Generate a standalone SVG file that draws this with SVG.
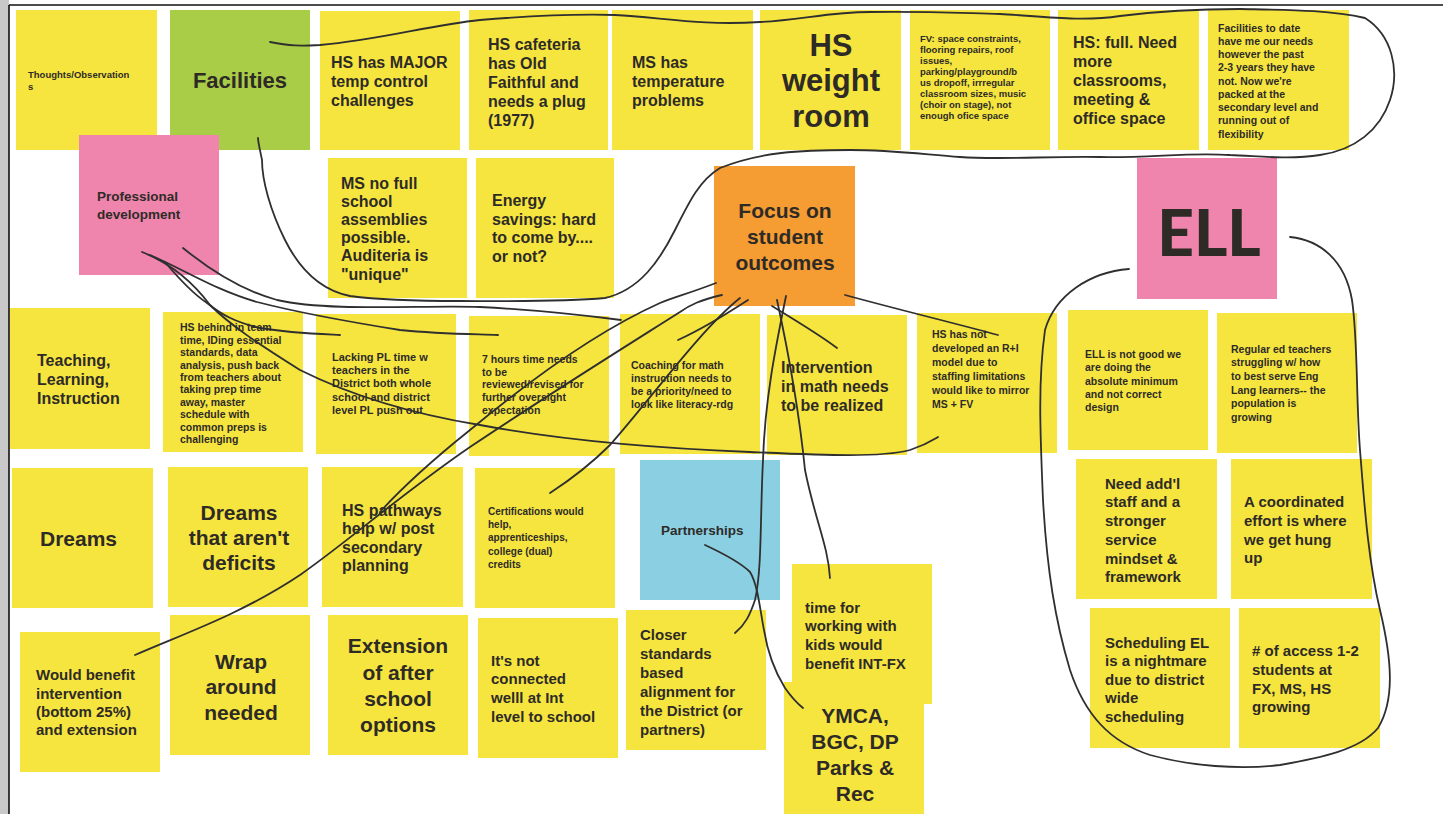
<svg xmlns="http://www.w3.org/2000/svg" width="1443" height="814" viewBox="0 0 1443 814">
<style>
.y{fill:#f6e53f}
.g{fill:#a9cd46}
.p{fill:#ef84ad}
.o{fill:#f59c33}
.b{fill:#8bd0e2}
text{font-family:"Liberation Sans",Arial,sans-serif;font-weight:700;fill:#2e2b27;dominant-baseline:central}
.s9{font-size:9.5px}
.s10{font-size:10.5px}
.s13{font-size:13.5px}
.s15{font-size:15px}
.s16{font-size:16px}
.s21{font-size:21px}
.c{text-anchor:middle}
.ln{fill:none;stroke:#2f2f2f;stroke-width:1.8;stroke-linecap:round;stroke-linejoin:round}
</style>
<rect x="0" y="0" width="1443" height="814" fill="#ffffff"/>
<rect x="0" y="0" width="9" height="814" fill="#c9c9c9"/>
<line x1="9" y1="5" x2="9" y2="814" stroke="#111" stroke-width="1.6"/>
<line x1="9" y1="5" x2="1443" y2="5" stroke="#111" stroke-width="1.6"/>

<g id="n-thoughts"><rect class="y" x="16" y="10" width="141" height="140"/>
<text class="s9"><tspan x="28" y="74">Thoughts/Observation</tspan><tspan x="28" y="86">s</tspan></text></g>
<g id="n-facilities"><rect class="g" x="170" y="10" width="140" height="140"/>
<text class="c" x="240" y="80" style="font-size:22px">Facilities</text></g>
<g id="n-hsmajor"><rect class="y" x="320" y="11" width="140" height="139"/>
<text class="s16"><tspan x="331" y="62">HS has MAJOR</tspan><tspan x="331" y="81">temp control</tspan><tspan x="331" y="100">challenges</tspan></text></g>
<g id="n-caf"><rect class="y" x="469" y="10" width="139" height="140"/>
<text class="s16"><tspan x="488" y="44">HS cafeteria</tspan><tspan x="488" y="63">has Old</tspan><tspan x="488" y="82">Faithful and</tspan><tspan x="488" y="101">needs a plug</tspan><tspan x="488" y="120">(1977)</tspan></text></g>
<g id="n-mstemp"><rect class="y" x="612" y="10" width="141" height="140"/>
<text class="s16"><tspan x="632" y="62">MS has</tspan><tspan x="632" y="81">temperature</tspan><tspan x="632" y="100">problems</tspan></text></g>
<g id="n-weight"><rect class="y" x="760" y="10" width="141" height="140"/>
<text class="c" style="font-size:31px"><tspan x="831" y="45">HS</tspan><tspan x="831" y="80">weight</tspan><tspan x="831" y="116">room</tspan></text></g>
<g id="n-fv"><rect class="y" x="910" y="10" width="140" height="140"/>
<text class="s9"><tspan x="920" y="38">FV: space constraints,</tspan><tspan x="920" y="49">flooring repairs, roof</tspan><tspan x="920" y="60">issues,</tspan><tspan x="920" y="71">parking/playground/b</tspan><tspan x="920" y="82">us dropoff, irrregular</tspan><tspan x="920" y="93">classroom sizes, music</tspan><tspan x="920" y="104">(choir on stage), not</tspan><tspan x="920" y="115">enough ofice space</tspan></text></g>
<g id="n-hsfull"><rect class="y" x="1058" y="10" width="141" height="140"/>
<text class="s16"><tspan x="1073" y="42">HS: full. Need</tspan><tspan x="1073" y="61">more</tspan><tspan x="1073" y="80">classrooms,</tspan><tspan x="1073" y="99">meeting &amp;</tspan><tspan x="1073" y="118">office space</tspan></text></g>
<g id="n-todate"><rect class="y" x="1208" y="10" width="141" height="140"/>
<text class="s10"><tspan x="1218" y="28">Facilities to date</tspan><tspan x="1218" y="41">have me our needs</tspan><tspan x="1218" y="54">however the past</tspan><tspan x="1218" y="67">2-3 years they have</tspan><tspan x="1218" y="81">not. Now we're</tspan><tspan x="1218" y="94">packed at the</tspan><tspan x="1218" y="107">secondary level and</tspan><tspan x="1218" y="120">running out of</tspan><tspan x="1218" y="134">flexibility</tspan></text></g>

<g id="n-profdev"><rect class="p" x="79" y="135" width="140" height="140"/>
<text class="s13"><tspan x="97" y="196">Professional</tspan><tspan x="97" y="214">development</tspan></text></g>
<g id="n-msassembly"><rect class="y" x="328" y="158" width="139" height="140"/>
<text class="s16"><tspan x="341" y="183">MS no full</tspan><tspan x="341" y="201">school</tspan><tspan x="341" y="219">assemblies</tspan><tspan x="341" y="237">possible.</tspan><tspan x="341" y="255">Auditeria is</tspan><tspan x="341" y="274">"unique"</tspan></text></g>
<g id="n-energy"><rect class="y" x="476" y="158" width="138" height="140"/>
<text class="s16"><tspan x="492" y="200">Energy</tspan><tspan x="492" y="219">savings: hard</tspan><tspan x="492" y="237">to come by....</tspan><tspan x="492" y="256">or not?</tspan></text></g>
<g id="n-focus"><rect class="o" x="714" y="166" width="141" height="140"/>
<text class="c" style="font-size:21px"><tspan x="785" y="210">Focus on</tspan><tspan x="785" y="236">student</tspan><tspan x="785" y="262">outcomes</tspan></text></g>
<g id="n-ell"><rect class="p" x="1137" y="158" width="140" height="141"/>
<text class="c" x="1209" y="231" style="font-family:Lato,'Liberation Sans',sans-serif;font-weight:900;font-size:64px">ELL</text></g>

<g id="n-tli"><rect class="y" x="10" y="308" width="140" height="141"/>
<text class="s16"><tspan x="37" y="360">Teaching,</tspan><tspan x="37" y="379">Learning,</tspan><tspan x="37" y="398">Instruction</tspan></text></g>
<g id="n-hsbehind"><rect class="y" x="163" y="312" width="140" height="140"/>
<text class="s10"><tspan x="180" y="327">HS behind in team</tspan><tspan x="180" y="340">time, IDing essential</tspan><tspan x="180" y="352">standards, data</tspan><tspan x="180" y="365">analysis, push back</tspan><tspan x="180" y="377">from teachers about</tspan><tspan x="180" y="389">taking prep time</tspan><tspan x="180" y="402">away, master</tspan><tspan x="180" y="414">schedule with</tspan><tspan x="180" y="427">common preps is</tspan><tspan x="180" y="439">challenging</tspan></text></g>
<g id="n-lackingpl"><rect class="y" x="316" y="314" width="140" height="140"/>
<text style="font-size:11px"><tspan x="332" y="357">Lacking PL time w</tspan><tspan x="332" y="370">teachers in the</tspan><tspan x="332" y="383">District both whole</tspan><tspan x="332" y="397">school and district</tspan><tspan x="332" y="410">level PL push out</tspan></text></g>
<g id="n-7hours"><rect class="y" x="469" y="316" width="140" height="140"/>
<text class="s10"><tspan x="482" y="359">7 hours time needs</tspan><tspan x="482" y="372">to be</tspan><tspan x="482" y="384">reviewed/revised for</tspan><tspan x="482" y="397">further oversight</tspan><tspan x="482" y="410">expectation</tspan></text></g>
<g id="n-coaching"><rect class="y" x="620" y="314" width="140" height="140"/>
<text class="s10"><tspan x="631" y="365">Coaching for math</tspan><tspan x="631" y="378">instruction needs to</tspan><tspan x="631" y="391">be a priority/need to</tspan><tspan x="631" y="404">look like literacy-rdg</tspan></text></g>
<g id="n-intervention"><rect class="y" x="767" y="315" width="140" height="140"/>
<text class="s16"><tspan x="781" y="367">Intervention</tspan><tspan x="781" y="386">in math needs</tspan><tspan x="781" y="405">to be realized</tspan></text></g>
<g id="n-hsnot"><rect class="y" x="917" y="313" width="140" height="140"/>
<text class="s10"><tspan x="932" y="334">HS has not</tspan><tspan x="932" y="348">developed an R+I</tspan><tspan x="932" y="362">model due to</tspan><tspan x="932" y="376">staffing limitations</tspan><tspan x="932" y="390">would like to mirror</tspan><tspan x="932" y="404">MS + FV</tspan></text></g>
<g id="n-ellnotgood"><rect class="y" x="1068" y="310" width="140" height="140"/>
<text class="s10"><tspan x="1085" y="354">ELL is not good we</tspan><tspan x="1085" y="367">are doing the</tspan><tspan x="1085" y="381">absolute minimum</tspan><tspan x="1085" y="394">and not correct</tspan><tspan x="1085" y="407">design</tspan></text></g>
<g id="n-reged"><rect class="y" x="1217" y="313" width="140" height="140"/>
<text class="s10"><tspan x="1231" y="349">Regular ed teachers</tspan><tspan x="1231" y="362">struggling w/ how</tspan><tspan x="1231" y="376">to best serve Eng</tspan><tspan x="1231" y="390">Lang learners-- the</tspan><tspan x="1231" y="403">population is</tspan><tspan x="1231" y="417">growing</tspan></text></g>

<g id="n-dreams"><rect class="y" x="12" y="468" width="141" height="140"/>
<text class="s21" x="40" y="538">Dreams</text></g>
<g id="n-dreams2"><rect class="y" x="168" y="467" width="140" height="140"/>
<text class="s21 c"><tspan x="239" y="512">Dreams</tspan><tspan x="239" y="537">that aren't</tspan><tspan x="239" y="562">deficits</tspan></text></g>
<g id="n-pathways"><rect class="y" x="322" y="467" width="141" height="140"/>
<text class="s16"><tspan x="342" y="510">HS pathways</tspan><tspan x="342" y="528">help w/ post</tspan><tspan x="342" y="547">secondary</tspan><tspan x="342" y="565">planning</tspan></text></g>
<g id="n-cert"><rect class="y" x="475" y="468" width="140" height="140"/>
<text style="font-size:10px"><tspan x="488" y="511">Certifications would</tspan><tspan x="488" y="524">help,</tspan><tspan x="488" y="537">apprenticeships,</tspan><tspan x="488" y="551">college (dual)</tspan><tspan x="488" y="564">credits</tspan></text></g>
<g id="n-partnerships"><rect class="b" x="640" y="460" width="140" height="140"/>
<text class="s13" x="661" y="530">Partnerships</text></g>
<g id="n-needstaff"><rect class="y" x="1076" y="459" width="141" height="140"/>
<text class="s15"><tspan x="1105" y="483">Need add'l</tspan><tspan x="1105" y="501">staff and a</tspan><tspan x="1105" y="520">stronger</tspan><tspan x="1105" y="539">service</tspan><tspan x="1105" y="558">mindset &amp;</tspan><tspan x="1105" y="576">framework</tspan></text></g>
<g id="n-coord"><rect class="y" x="1231" y="459" width="141" height="140"/>
<text class="s15"><tspan x="1244" y="501">A coordinated</tspan><tspan x="1244" y="520">effort is where</tspan><tspan x="1244" y="539">we get hung</tspan><tspan x="1244" y="557">up</tspan></text></g>

<g id="n-benefit"><rect class="y" x="20" y="632" width="140" height="140"/>
<text class="s15"><tspan x="36" y="674">Would benefit</tspan><tspan x="36" y="693">intervention</tspan><tspan x="36" y="711">(bottom 25%)</tspan><tspan x="36" y="729">and extension</tspan></text></g>
<g id="n-wrap"><rect class="y" x="170" y="615" width="140" height="140"/>
<text class="s21 c"><tspan x="241" y="661">Wrap</tspan><tspan x="241" y="686">around</tspan><tspan x="241" y="712">needed</tspan></text></g>
<g id="n-extension"><rect class="y" x="328" y="615" width="140" height="140"/>
<text class="s21 c"><tspan x="398" y="645">Extension</tspan><tspan x="398" y="672">of after</tspan><tspan x="398" y="698">school</tspan><tspan x="398" y="724">options</tspan></text></g>
<g id="n-notconnected"><rect class="y" x="478" y="618" width="140" height="140"/>
<text class="s15"><tspan x="491" y="660">It's not</tspan><tspan x="491" y="678">connected</tspan><tspan x="491" y="697">welll at Int</tspan><tspan x="491" y="716">level to school</tspan></text></g>
<g id="n-closer"><rect class="y" x="626" y="610" width="140" height="140"/>
<text class="s15"><tspan x="640" y="634">Closer</tspan><tspan x="640" y="653">standards</tspan><tspan x="640" y="672">based</tspan><tspan x="640" y="691">alignment for</tspan><tspan x="640" y="710">the District (or</tspan><tspan x="640" y="729">partners)</tspan></text></g>
<g id="n-timefor"><rect class="y" x="792" y="564" width="140" height="140"/>
<text class="s15"><tspan x="805" y="607">time for</tspan><tspan x="805" y="625">working with</tspan><tspan x="805" y="644">kids would</tspan><tspan x="805" y="663">benefit INT-FX</tspan></text></g>
<g id="n-ymca"><rect class="y" x="784" y="682" width="140" height="132"/>
<text class="s21 c"><tspan x="855" y="715">YMCA,</tspan><tspan x="855" y="741">BGC, DP</tspan><tspan x="855" y="767">Parks &amp;</tspan><tspan x="855" y="793">Rec</tspan></text></g>
<g id="n-schedel"><rect class="y" x="1090" y="608" width="140" height="140"/>
<text class="s15"><tspan x="1105" y="642">Scheduling EL</tspan><tspan x="1105" y="660">is a nightmare</tspan><tspan x="1105" y="679">due to district</tspan><tspan x="1105" y="697">wide</tspan><tspan x="1105" y="716">scheduling</tspan></text></g>
<g id="n-access"><rect class="y" x="1239" y="608" width="141" height="140"/>
<text class="s15"><tspan x="1252" y="650"># of access 1-2</tspan><tspan x="1252" y="669">students at</tspan><tspan x="1252" y="688">FX, MS, HS</tspan><tspan x="1252" y="706">growing</tspan></text></g>

<g id="connectors">
<path class="ln" d="M270,42 C290,46 300,46 320,45 C380,40 430,25 480,20 C540,15 580,14 615,15 C660,17 700,26 760,22 C800,20 830,12 870,12 C920,11 960,13 1000,14 C1040,16 1080,22 1120,16 C1160,11 1200,9 1240,9 C1290,10 1330,10 1365,18 C1392,35 1400,70 1390,100 C1380,130 1355,150 1320,155 C1290,160 1260,156 1230,155 C1190,152 1150,158 1100,157 C1050,156 1000,160 960,157 C920,154 890,150 850,150 C800,150 760,152 720,168 C700,180 690,200 675,230 C660,260 640,290 605,298 C560,302 500,301 460,301 C420,301 380,300 350,296 C320,290 300,270 285,240 C270,210 262,180 262,160 C260,150 258,142 258,138"/>
<path class="ln" d="M1290,237 C1320,240 1345,260 1352,300 C1358,340 1356,400 1360,450 C1364,500 1368,560 1380,610 C1392,660 1395,700 1378,728 C1360,750 1320,758 1280,765 C1240,770 1190,766 1150,755 C1110,742 1085,715 1070,670 C1055,620 1047,570 1043,500 C1040,430 1038,380 1045,330 C1055,295 1090,272 1129,269"/>
<path class="ln" d="M183,248 C210,270 240,290 277,300 C330,312 420,305 480,307 C540,310 590,316 621,320"/>
<path class="ln" d="M150,255 C185,270 215,290 257,302 C300,313 350,322 400,330 C440,334 470,334 498,335"/>
<path class="ln" d="M165,262 C180,280 195,295 207,303 C222,315 235,322 260,328 C290,333 320,334 340,335"/>
<path class="ln" d="M142,252 C175,265 195,285 210,305 C230,325 260,345 300,370 C340,390 400,412 480,425 C560,440 650,448 750,452 C820,455 880,458 910,450 C925,445 933,440 938,437"/>
<path class="ln" d="M716,283 C690,293 672,298 660,303 C600,330 530,380 470,430 C430,462 400,490 380,512"/>
<path class="ln" d="M722,295 C700,300 690,305 680,312 C620,350 540,400 470,447 C400,495 350,540 300,575 C240,615 180,635 135,655"/>
<path class="ln" d="M740,298 C700,330 650,400 610,445 C590,465 570,480 550,493"/>
<path class="ln" d="M748,300 C725,315 700,330 678,340"/>
<path class="ln" d="M772,306 C795,320 820,335 837,348"/>
<path class="ln" d="M786,296 C775,350 765,400 763,460 C760,520 762,570 755,600 C750,615 745,625 735,633"/>
<path class="ln" d="M777,300 C790,360 800,420 805,470 C815,520 828,545 830,578"/>
<path class="ln" d="M845,295 C900,310 950,322 998,335"/>
<path class="ln" d="M705,545 C720,552 740,562 750,572 C758,585 760,610 764,630 C768,655 775,672 785,688 C792,698 798,704 803,708"/>
</g>
</svg>
